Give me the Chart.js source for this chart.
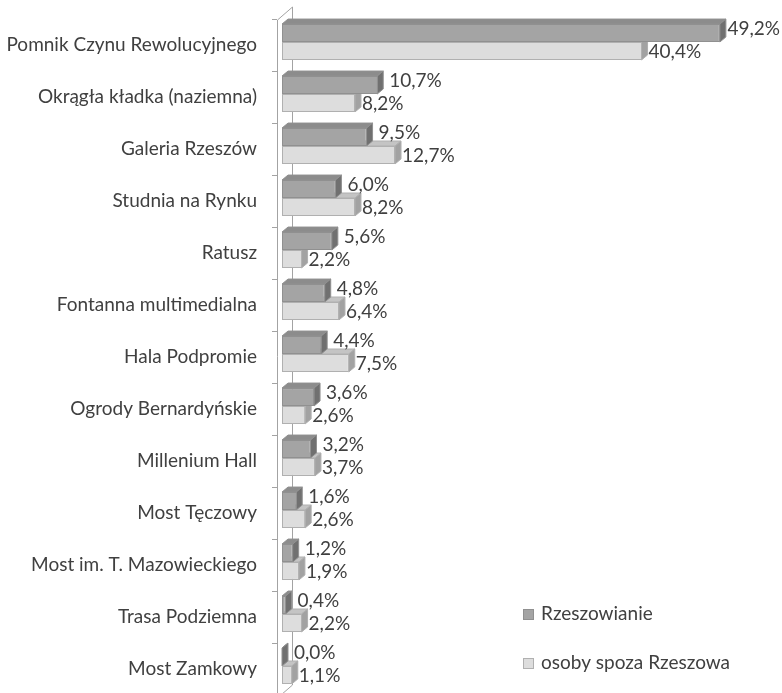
<!DOCTYPE html>
<html>
<head>
<meta charset="utf-8">
<script src="https://cdn.jsdelivr.net/npm/chart.js@4.4.1/dist/chart.umd.min.js"></script>
<style>
html,body{margin:0;padding:0;background:#fff;overflow:hidden;}
#wrap{width:782px;height:693px;position:relative;}
</style>
</head>
<body>
<div id="wrap"><canvas id="c" width="782" height="693"></canvas></div>
<script>
const categories = [
  'Pomnik Czynu Rewolucyjnego',
  'Okrągła kładka (naziemna)',
  'Galeria Rzeszów',
  'Studnia na Rynku',
  'Ratusz',
  'Fontanna multimedialna',
  'Hala Podpromie',
  'Ogrody Bernardyńskie',
  'Millenium Hall',
  'Most Tęczowy',
  'Most im. T. Mazowieckiego',
  'Trasa Podziemna',
  'Most Zamkowy'
];
const seriesNames = ['Rzeszowianie', 'osoby spoza Rzeszowa'];
const rzeszowianie = [49.2, 10.7, 9.5, 6.0, 5.6, 4.8, 4.4, 3.6, 3.2, 1.6, 1.2, 0.4, 0.0];
const spoza = [40.4, 8.2, 12.7, 8.2, 2.2, 6.4, 7.5, 2.6, 3.7, 2.6, 1.9, 2.2, 1.1];

const FONT = 'Lato, "Open Sans", sans-serif';
const TXT = '#404040';
const DX = 6, DY = 5;
const faces = [
  {front:'#a4a4a4', top:'#8c8c8c', side:'#707070', border:'#909090', gap:6, dyLabel:-4},
  {front:'#dddddd', top:'#c4c4c4', side:'#a2a2a2', border:'#b0b0b0', gap:1, dyLabel:1}
];

function fmt(v){ return v.toFixed(1).replace('.', ',') + '%'; }

const deco = {
  id:'deco',
  beforeDatasetsDraw(chart){
    const ctx = chart.ctx, a = chart.chartArea;
    const ys = chart.scales.y;
    const band = (ys.getPixelForValue(1) - ys.getPixelForValue(0));
    const fx = a.left - 5, bx = a.left + 10;
    const top0 = a.top + 3;
    ctx.save();
    ctx.strokeStyle = '#a3a3a3';
    ctx.lineWidth = 1;
    ctx.beginPath();
    ctx.moveTo(bx + 0.5, top0 - 12);
    ctx.lineTo(bx + 0.5, a.bottom - 7);
    ctx.lineTo(fx + 0.5, a.bottom + 6);
    ctx.stroke();
    ctx.beginPath();
    ctx.moveTo(fx + 0.5, top0 + 1);
    ctx.lineTo(bx + 0.5, top0 - 12);
    ctx.stroke();
    ctx.beginPath();
    ctx.moveTo(fx + 0.5, top0 + 1);
    ctx.lineTo(fx + 0.5, chart.height);
    ctx.stroke();
    for (let k = 0; k < categories.length; k++) {
      const y = Math.round(top0 + k * band) + 0.5;
      ctx.beginPath();
      ctx.moveTo(fx - 5, y);
      ctx.lineTo(fx, y);
      ctx.stroke();
    }
    for (let d = chart.data.datasets.length - 1; d >= 0; d--) {
      const meta = chart.getDatasetMeta(d);
      const f = faces[d];
      meta.data.forEach(bar => {
        const p = bar.getProps(['x','y','base','height'], true);
        const t = p.y - p.height/2, b = p.y + p.height/2;
        const x0 = p.base, x1 = p.x;
        ctx.beginPath();
        ctx.moveTo(x0, t);
        ctx.lineTo(x0 + DX, t - DY);
        ctx.lineTo(x1 + DX, t - DY);
        ctx.lineTo(x1, t);
        ctx.closePath();
        ctx.fillStyle = f.top; ctx.fill();
        ctx.strokeStyle = f.border; ctx.stroke();
        ctx.beginPath();
        ctx.moveTo(x1, t);
        ctx.lineTo(x1 + DX, t - DY);
        ctx.lineTo(x1 + DX, b - DY);
        ctx.lineTo(x1, b);
        ctx.closePath();
        ctx.fillStyle = f.side; ctx.fill();
        ctx.strokeStyle = f.border; ctx.stroke();
      });
    }
    ctx.restore();
  },
  afterDatasetsDraw(chart){
    const ctx = chart.ctx;
    ctx.save();
    ctx.font = '19px ' + FONT;
    ctx.fillStyle = TXT;
    ctx.textBaseline = 'middle';
    ctx.textAlign = 'left';
    chart.data.datasets.forEach((ds, d) => {
      const meta = chart.getDatasetMeta(d);
      const f = faces[d];
      meta.data.forEach((bar, i) => {
        const p = bar.getProps(['x','y'], true);
        const s = fmt(ds.data[i]);
        const w = ctx.measureText(s).width;
        let x = p.x + DX + f.gap;
        x = Math.min(x, chart.width - w - 2);
        ctx.fillText(s, x, p.y + f.dyLabel);
      });
    });
    const a = chart.chartArea;
    const lx = a.right - 204;
    const lys = [a.bottom - 78, a.bottom - 29];
    ctx.font = '19px ' + FONT;
    chart.data.datasets.forEach((ds, d) => {
      const y = lys[d];
      ctx.fillStyle = faces[d].front;
      ctx.fillRect(lx, y - 5, 11, 11);
      ctx.strokeStyle = faces[d].border;
      ctx.strokeRect(lx + 0.5, y - 4.5, 10, 10);
      ctx.fillStyle = TXT;
      ctx.fillText(ds.label, lx + 18, y);
    });
    ctx.restore();
  }
};

new Chart(document.getElementById('c'), {
  type: 'bar',
  data: {
    labels: categories,
    datasets: [
      {label: seriesNames[0], data: rzeszowianie, backgroundColor: faces[0].front, borderColor: faces[0].border, borderWidth: 1, borderSkipped: false},
      {label: seriesNames[1], data: spoza, backgroundColor: faces[1].front, borderColor: faces[1].border, borderWidth: 1, borderSkipped: false}
    ]
  },
  options: {
    indexAxis: 'y',
    responsive: false,
    animation: false,
    devicePixelRatio: 1,
    layout: {padding: {left: 0, right: 55, top: 16, bottom: 1}},
    datasets: {bar: {categoryPercentage: 0.69, barPercentage: 1.0}},
    plugins: {legend: {display: false}, tooltip: {enabled: false}},
    scales: {
      x: {display: false, min: 0, max: 50},
      y: {
        grid: {display: false, drawTicks: false},
        border: {display: false},
        ticks: {color: TXT, font: {family: FONT, size: 19}, padding: 25, labelOffset: 3, autoSkip: false},
        afterFit(scale){ scale.width = 282; scale.paddingTop = 0; scale.paddingBottom = 0; }
      }
    }
  },
  plugins: [deco]
});
</script>
</body>
</html>
